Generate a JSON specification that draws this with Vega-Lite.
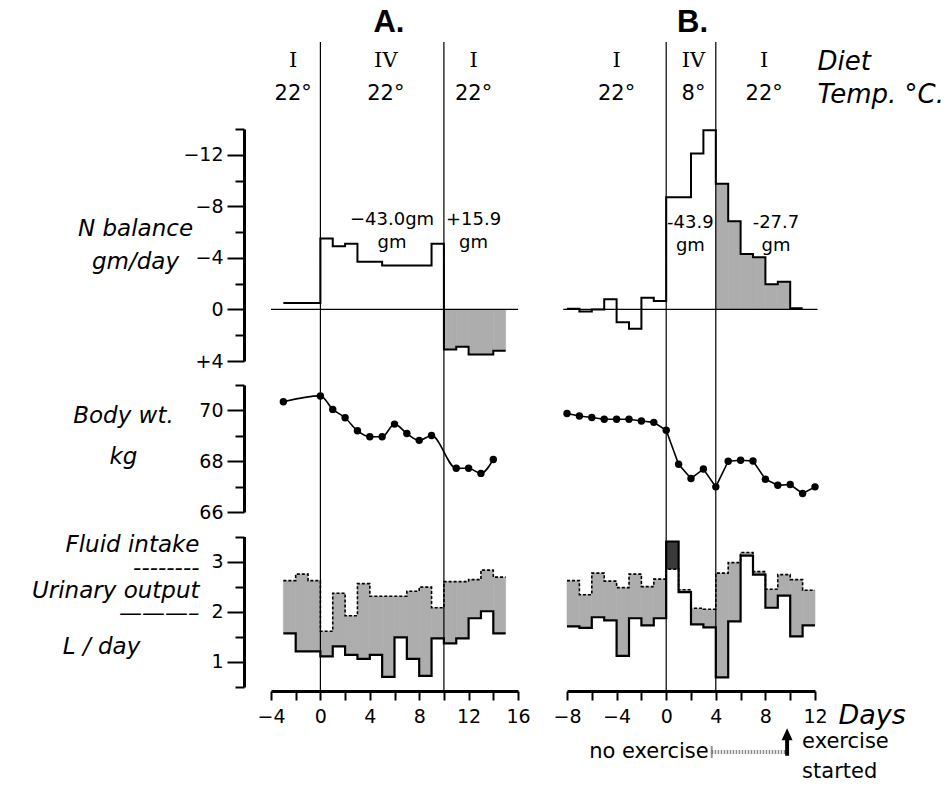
{
  "$schema": "https://vega.github.io/schema/vega-lite/v6.json",
  "width": 948,
  "height": 786,
  "autosize": "none",
  "padding": 0,
  "background": "white",
  "config": {
    "view": {"stroke": null},
    "axis": {
      "domainColor": "black", "domainWidth": 3, "tickColor": "black", "tickWidth": 2,
      "labelColor": "black", "labelFont": "DejaVu Sans", "labelFontSize": 19,
      "labelFlush": false, "labelOverlap": false, "labelBound": false, "grid": false,
      "titleColor": "black", "titleFont": "DejaVu Sans", "titleFontStyle": "italic",
      "titleFontWeight": "normal", "titleFontSize": 23
    },
    "text": {"color": "black"}
  },
  "datasets": {
    "nA": [
      {"day": -3, "day_end": 0, "n": -0.5, "period": "pre"},
      {"day": 0, "day_end": 1, "n": -5.5, "period": "IV"},
      {"day": 1, "day_end": 2, "n": -4.9, "period": "IV"},
      {"day": 2, "day_end": 3, "n": -5.1, "period": "IV"},
      {"day": 3, "day_end": 5, "n": -3.7, "period": "IV"},
      {"day": 5, "day_end": 9, "n": -3.4, "period": "IV"},
      {"day": 9, "day_end": 10, "n": -5.1, "period": "IV"},
      {"day": 10, "day_end": 11, "n": 3.1, "period": "post"},
      {"day": 11, "day_end": 12, "n": 2.9, "period": "post"},
      {"day": 12, "day_end": 14, "n": 3.5, "period": "post"},
      {"day": 14, "day_end": 15, "n": 3.2, "period": "post"}
    ],
    "nB": [
      {"day": -8, "day_end": -7, "n": -0.05, "period": "pre"},
      {"day": -7, "day_end": -6, "n": 0.15, "period": "pre"},
      {"day": -6, "day_end": -5, "n": 0, "period": "pre"},
      {"day": -5, "day_end": -4, "n": -0.8, "period": "pre"},
      {"day": -4, "day_end": -3, "n": 1.0, "period": "pre"},
      {"day": -3, "day_end": -2, "n": 1.5, "period": "pre"},
      {"day": -2, "day_end": -1, "n": -0.9, "period": "pre"},
      {"day": -1, "day_end": 0, "n": -0.65, "period": "pre"},
      {"day": 0, "day_end": 2, "n": -8.7, "period": "IV"},
      {"day": 2, "day_end": 3, "n": -12.1, "period": "IV"},
      {"day": 3, "day_end": 4, "n": -13.9, "period": "IV"},
      {"day": 4, "day_end": 5, "n": -9.75, "period": "post"},
      {"day": 5, "day_end": 6, "n": -6.85, "period": "post"},
      {"day": 6, "day_end": 7, "n": -4.3, "period": "post"},
      {"day": 7, "day_end": 8, "n": -4.05, "period": "post"},
      {"day": 8, "day_end": 9, "n": -1.95, "period": "post"},
      {"day": 9, "day_end": 10, "n": -2.15, "period": "post"},
      {"day": 10, "day_end": 11, "n": -0.1, "period": "post"}
    ],
    "labA": [
      {"day": 5.8, "n": -6.94, "text": "−43.0gm\ngm"},
      {"day": 12.4, "n": -6.94, "text": "+15.9\ngm"}
    ],
    "labB": [
      {"day": 1.95, "n": -6.71, "text": "-43.9\ngm"},
      {"day": 8.85, "n": -6.71, "text": "-27.7\ngm"}
    ],
    "wA": [
      {"day": -3, "kg": 70.34}, {"day": 0, "kg": 70.57}, {"day": 1, "kg": 70.04},
      {"day": 2, "kg": 69.71}, {"day": 3, "kg": 69.2}, {"day": 4, "kg": 68.96},
      {"day": 5, "kg": 68.96}, {"day": 6, "kg": 69.46}, {"day": 7, "kg": 69.09},
      {"day": 8, "kg": 68.82}, {"day": 9, "kg": 69.01}, {"day": 11, "kg": 67.72},
      {"day": 12, "kg": 67.72}, {"day": 13, "kg": 67.52}, {"day": 14, "kg": 68.07}
    ],
    "wB": [
      {"day": -8, "kg": 69.88}, {"day": -7, "kg": 69.78}, {"day": -6, "kg": 69.72},
      {"day": -5, "kg": 69.65}, {"day": -4, "kg": 69.65}, {"day": -3, "kg": 69.65},
      {"day": -2, "kg": 69.58}, {"day": -1, "kg": 69.53}, {"day": 0, "kg": 69.22},
      {"day": 1, "kg": 67.88}, {"day": 2, "kg": 67.32}, {"day": 3, "kg": 67.69},
      {"day": 4, "kg": 66.99}, {"day": 5, "kg": 68.0}, {"day": 6, "kg": 68.04},
      {"day": 7, "kg": 68.01}, {"day": 8, "kg": 67.29}, {"day": 9, "kg": 67.05},
      {"day": 10, "kg": 67.08}, {"day": 11, "kg": 66.73}, {"day": 12, "kg": 66.99}
    ],
    "fA": [
      {"day": -3, "day_end": -2, "intake": 2.62, "output": 1.57},
      {"day": -2, "day_end": -1, "intake": 2.75, "output": 1.21},
      {"day": -1, "day_end": 0, "intake": 2.62, "output": 1.21},
      {"day": 0, "day_end": 1, "intake": 1.61, "output": 1.11},
      {"day": 1, "day_end": 2, "intake": 2.37, "output": 1.31},
      {"day": 2, "day_end": 3, "intake": 1.92, "output": 1.14},
      {"day": 3, "day_end": 4, "intake": 2.56, "output": 1.06},
      {"day": 4, "day_end": 5, "intake": 2.31, "output": 1.14},
      {"day": 5, "day_end": 6, "intake": 2.31, "output": 0.7},
      {"day": 6, "day_end": 7, "intake": 2.31, "output": 1.49},
      {"day": 7, "day_end": 8, "intake": 2.41, "output": 1.06},
      {"day": 8, "day_end": 9, "intake": 2.49, "output": 0.72},
      {"day": 9, "day_end": 10, "intake": 2.08, "output": 1.47},
      {"day": 10, "day_end": 11, "intake": 2.6, "output": 1.37},
      {"day": 11, "day_end": 12, "intake": 2.6, "output": 1.47},
      {"day": 12, "day_end": 13, "intake": 2.64, "output": 1.87},
      {"day": 13, "day_end": 14, "intake": 2.83, "output": 2.01},
      {"day": 14, "day_end": 15, "intake": 2.69, "output": 1.57}
    ],
    "fB": [
      {"day": -8, "day_end": -7, "intake": 2.62, "output": 1.71},
      {"day": -7, "day_end": -6, "intake": 2.34, "output": 1.68},
      {"day": -6, "day_end": -5, "intake": 2.77, "output": 1.89},
      {"day": -5, "day_end": -4, "intake": 2.61, "output": 1.83},
      {"day": -4, "day_end": -3, "intake": 2.48, "output": 1.12},
      {"day": -3, "day_end": -2, "intake": 2.75, "output": 1.87},
      {"day": -2, "day_end": -1, "intake": 2.5, "output": 1.73},
      {"day": -1, "day_end": 0, "intake": 2.65, "output": 1.87},
      {"day": 0, "day_end": 1, "intake": 2.85, "output": 3.4},
      {"day": 1, "day_end": 2, "intake": 2.44, "output": 2.39},
      {"day": 2, "day_end": 3, "intake": 2.07, "output": 1.75},
      {"day": 3, "day_end": 4, "intake": 2.05, "output": 1.69},
      {"day": 4, "day_end": 5, "intake": 2.77, "output": 0.69},
      {"day": 5, "day_end": 6, "intake": 2.98, "output": 1.81},
      {"day": 6, "day_end": 7, "intake": 3.18, "output": 3.12},
      {"day": 7, "day_end": 8, "intake": 2.8, "output": 2.74},
      {"day": 8, "day_end": 9, "intake": 2.45, "output": 2.08},
      {"day": 9, "day_end": 10, "intake": 2.74, "output": 2.32},
      {"day": 10, "day_end": 11, "intake": 2.64, "output": 1.51},
      {"day": 11, "day_end": 12, "intake": 2.43, "output": 1.73}
    ],
    "hA": [
      {"day": -2.2, "diet": "I", "temp": "22°"},
      {"day": 5.3, "diet": "IV", "temp": "22°"},
      {"day": 12.4, "diet": "I", "temp": "22°"}
    ],
    "hB": [
      {"day": -4, "diet": "I", "temp": "22°"},
      {"day": 2.2, "diet": "IV", "temp": "8°"},
      {"day": 7.9, "diet": "I", "temp": "22°"}
    ],
    "titles": [
      {"panel": "A.", "day": 5.55},
      {"panel": "B.", "day": 2.12}
    ],
    "bA": [{"day": 0}, {"day": 10}],
    "bB": [{"day": 0}, {"day": 4}],
    "exercise": [{"from": 3.67, "to": 9.75, "before": "no exercise", "after": "exercise\nstarted"}]
  },
  "layer": [
    {
      "layer": [
        {
          "data": {"name": "nA"},
          "layer": [
            {
              "transform": [{"filter": "datum.period === 'post'"}],
              "mark": {"type": "rect", "color": "#adadad", "stroke": "#adadad", "strokeWidth": 0.6},
              "encoding": {
                "x": {"field": "day", "type": "quantitative", "scale": {"domain": [-4, 16], "range": [271, 518], "nice": false, "zero": false}},
                "x2": {"field": "day_end"},
                "y": {"field": "n", "type": "quantitative", "scale": {"domain": [-14, 4], "range": [129, 361], "nice": false, "zero": false},
                  "axis": {"orient": "left", "offset": -244, "values": [-14, -12, -10, -8, -6, -4, -2, 0, 2, 4],
                    "labelExpr": "datum.value % 4 !== 0 ? '' : (datum.value > 0 ? '+' + datum.label : datum.label)",
                    "tickSize": {"condition": {"test": "datum.value % 4 === 0", "value": 17}, "value": 9},
                    "labelPadding": 4,
                    "title": ["N balance", "gm/day"], "titleX": -109, "titleY": 228, "titleAlign": "center", "titleBaseline": "middle", "titleAngle": 0, "titleLineHeight": 33}},
                "y2": {"datum": 0}
              }
            },
            {
              "data": {"values": [{}]},
              "mark": {"type": "rule", "color": "black", "strokeWidth": 1.2},
              "encoding": {
                "x": {"datum": -4, "type": "quantitative", "scale": {"domain": [-4, 16], "range": [271, 518], "nice": false, "zero": false}},
                "x2": {"datum": 16},
                "y": {"datum": 0, "type": "quantitative", "scale": {"domain": [-14, 4], "range": [129, 361], "nice": false, "zero": false}}
              }
            },
            {
              "transform": [{"fold": ["day", "day_end"], "as": ["edge", "t"]}],
              "mark": {"type": "line", "color": "black", "strokeWidth": 2},
              "encoding": {
                "x": {"field": "t", "type": "quantitative", "scale": {"domain": [-4, 16], "range": [271, 518], "nice": false, "zero": false}},
                "y": {"field": "n", "type": "quantitative", "scale": {"domain": [-14, 4], "range": [129, 361], "nice": false, "zero": false}},
                "order": [{"field": "t", "type": "quantitative"}, {"field": "edge", "type": "nominal", "sort": "descending"}]
              }
            },
            {
              "data": {"name": "labA"},
              "mark": {"type": "text", "font": "DejaVu Sans", "fontSize": 18, "lineBreak": "\n", "lineHeight": 23, "align": "center", "baseline": "middle"},
              "encoding": {
                "x": {"field": "day", "type": "quantitative", "scale": {"domain": [-4, 16], "range": [271, 518], "nice": false, "zero": false}},
                "y": {"field": "n", "type": "quantitative", "scale": {"domain": [-14, 4], "range": [129, 361], "nice": false, "zero": false}},
                "text": {"field": "text"}
              }
            }
          ]
        },
        {
          "data": {"name": "wA"},
          "layer": [
            {
              "mark": {"type": "line", "color": "black", "strokeWidth": 1.6, "interpolate": "monotone"},
              "encoding": {
                "x": {"field": "day", "type": "quantitative", "scale": {"domain": [-4, 16], "range": [271, 518], "nice": false, "zero": false}},
                "y": {"field": "kg", "type": "quantitative", "scale": {"domain": [66, 71], "range": [512, 385], "nice": false, "zero": false},
                  "axis": {"orient": "left", "offset": -244, "values": [66, 67, 68, 69, 70, 71], "format": "d",
                    "labelExpr": "datum.value % 2 === 0 ? datum.label : ''",
                    "tickSize": {"condition": {"test": "datum.value % 2 === 0", "value": 17}, "value": 9},
                    "labelPadding": 4,
                    "title": ["Body wt.", "kg"], "titleX": -121, "titleY": 415, "titleAlign": "center", "titleBaseline": "middle", "titleAngle": 0, "titleLineHeight": 41}}
              }
            },
            {
              "mark": {"type": "point", "filled": true, "color": "black", "opacity": 1, "size": 55},
              "encoding": {
                "x": {"field": "day", "type": "quantitative", "scale": {"domain": [-4, 16], "range": [271, 518], "nice": false, "zero": false}},
                "y": {"field": "kg", "type": "quantitative", "scale": {"domain": [66, 71], "range": [512, 385], "nice": false, "zero": false}}
              }
            }
          ]
        },
        {
          "data": {"name": "fA"},
          "layer": [
            {
              "mark": {"type": "rect", "strokeWidth": 0.6},
              "encoding": {
                "x": {"field": "day", "type": "quantitative", "scale": {"domain": [-4, 16], "range": [271, 518], "nice": false, "zero": false}},
                "x2": {"field": "day_end"},
                "y": {"field": "intake", "type": "quantitative", "scale": {"domain": [0.5, 3.5], "range": [687, 536.5], "nice": false, "zero": false},
                  "axis": {"orient": "left", "offset": -244, "values": [0.5, 1, 1.5, 2, 2.5, 3, 3.5],
                    "labelExpr": "datum.value % 1 === 0 ? format(datum.value, 'd') : ''",
                    "tickSize": {"condition": {"test": "datum.value % 1 === 0", "value": 17}, "value": 9},
                    "labelPadding": 4,
                    "title": ["Fluid intake", "--------", "Urinary output", "———–"], "titleX": -45, "titleY": 544, "titleAlign": "right", "titleBaseline": "middle", "titleAngle": 0, "titleLineHeight": 23}},
                "y2": {"field": "output"},
                "fill": {"condition": {"test": "datum.intake >= datum.output", "value": "#adadad"}, "value": "#3a3a3a"},
                "stroke": {"condition": {"test": "datum.intake >= datum.output", "value": "#adadad"}, "value": "#3a3a3a"}
              }
            },
            {
              "transform": [{"fold": ["day", "day_end"], "as": ["edge", "t"]}],
              "mark": {"type": "line", "color": "black", "strokeWidth": 1.6, "strokeDash": [3, 2]},
              "encoding": {
                "x": {"field": "t", "type": "quantitative", "scale": {"domain": [-4, 16], "range": [271, 518], "nice": false, "zero": false}},
                "y": {"field": "intake", "type": "quantitative", "scale": {"domain": [0.5, 3.5], "range": [687, 536.5], "nice": false, "zero": false}},
                "order": [{"field": "t", "type": "quantitative"}, {"field": "edge", "type": "nominal", "sort": "descending"}]
              }
            },
            {
              "transform": [{"fold": ["day", "day_end"], "as": ["edge", "t"]}],
              "mark": {"type": "line", "color": "black", "strokeWidth": 2.2},
              "encoding": {
                "x": {"field": "t", "type": "quantitative", "scale": {"domain": [-4, 16], "range": [271, 518], "nice": false, "zero": false}},
                "y": {"field": "output", "type": "quantitative", "scale": {"domain": [0.5, 3.5], "range": [687, 536.5], "nice": false, "zero": false}},
                "order": [{"field": "t", "type": "quantitative"}, {"field": "edge", "type": "nominal", "sort": "descending"}]
              }
            }
          ]
        },
        {
          "data": {"name": "hA"},
          "layer": [
            {
              "mark": {"type": "text", "font": "DejaVu Serif", "fontSize": 21, "baseline": "middle", "align": "center"},
              "encoding": {
                "x": {"field": "day", "type": "quantitative", "scale": {"domain": [-4, 16], "range": [271, 518], "nice": false, "zero": false}},
                "y": {"datum": "Diet", "type": "nominal", "scale": {"type": "point", "domain": ["Diet", "Temp. °C."], "range": [61, 94], "padding": 0}, "axis": null},
                "text": {"field": "diet"}
              }
            },
            {
              "mark": {"type": "text", "font": "DejaVu Sans", "fontSize": 21, "baseline": "middle", "align": "center"},
              "encoding": {
                "x": {"field": "day", "type": "quantitative", "scale": {"domain": [-4, 16], "range": [271, 518], "nice": false, "zero": false}},
                "y": {"datum": "Temp. °C.", "type": "nominal", "scale": {"type": "point", "domain": ["Diet", "Temp. °C."], "range": [61, 94], "padding": 0}, "axis": null},
                "text": {"field": "temp"}
              }
            },
            {
              "data": {"name": "titles"},
              "transform": [{"filter": "datum.panel === 'A.'"}],
              "mark": {"type": "text", "font": "Liberation Sans", "fontWeight": "bold", "fontSize": 31, "baseline": "middle", "align": "center", "dy": -38},
              "encoding": {
                "x": {"field": "day", "type": "quantitative", "scale": {"domain": [-4, 16], "range": [271, 518], "nice": false, "zero": false}},
                "y": {"datum": "Diet", "type": "nominal", "scale": {"type": "point", "domain": ["Diet", "Temp. °C."], "range": [61, 94], "padding": 0}, "axis": null},
                "text": {"field": "panel"}
              }
            }
          ]
        },
        {
          "data": {"name": "bA"},
          "mark": {"type": "rule", "color": "black", "strokeWidth": 1.2},
          "encoding": {
            "x": {"field": "day", "type": "quantitative", "scale": {"domain": [-4, 16], "range": [271, 518], "nice": false, "zero": false},
              "axis": {"orient": "bottom", "offset": -95, "values": [-4, -2, 0, 2, 4, 6, 8, 10, 12, 14, 16],
                "labelExpr": "datum.value % 4 === 0 ? datum.label : ''", "tickSize": 9, "labelPadding": 7, "title": null}},
            "y": {"datum": 0, "type": "quantitative", "scale": {"domain": [0, 1], "range": [691, 42], "nice": false, "zero": false}, "axis": null},
            "y2": {"datum": 1}
          }
        }
      ],
      "resolve": {"scale": {"y": "independent"}}
    },
    {
      "layer": [
        {
          "data": {"name": "nB"},
          "layer": [
            {
              "transform": [{"filter": "datum.period === 'post'"}],
              "mark": {"type": "rect", "color": "#adadad", "stroke": "#adadad", "strokeWidth": 0.6},
              "encoding": {
                "x": {"field": "day", "type": "quantitative", "scale": {"domain": [-8, 12], "range": [567, 815], "nice": false, "zero": false}},
                "x2": {"field": "day_end"},
                "y": {"field": "n", "type": "quantitative", "scale": {"domain": [-14, 4], "range": [129, 361], "nice": false, "zero": false}, "axis": null},
                "y2": {"datum": 0}
              }
            },
            {
              "data": {"values": [{}]},
              "mark": {"type": "rule", "color": "black", "strokeWidth": 1.2},
              "encoding": {
                "x": {"datum": -8.3, "type": "quantitative", "scale": {"domain": [-8, 12], "range": [567, 815], "nice": false, "zero": false}},
                "x2": {"datum": 12.2},
                "y": {"datum": 0, "type": "quantitative", "scale": {"domain": [-14, 4], "range": [129, 361], "nice": false, "zero": false}, "axis": null}
              }
            },
            {
              "transform": [{"fold": ["day", "day_end"], "as": ["edge", "t"]}],
              "mark": {"type": "line", "color": "black", "strokeWidth": 2},
              "encoding": {
                "x": {"field": "t", "type": "quantitative", "scale": {"domain": [-8, 12], "range": [567, 815], "nice": false, "zero": false}},
                "y": {"field": "n", "type": "quantitative", "scale": {"domain": [-14, 4], "range": [129, 361], "nice": false, "zero": false}, "axis": null},
                "order": [{"field": "t", "type": "quantitative"}, {"field": "edge", "type": "nominal", "sort": "descending"}]
              }
            },
            {
              "data": {"name": "labB"},
              "mark": {"type": "text", "font": "DejaVu Sans", "fontSize": 18, "lineBreak": "\n", "lineHeight": 23, "align": "center", "baseline": "middle"},
              "encoding": {
                "x": {"field": "day", "type": "quantitative", "scale": {"domain": [-8, 12], "range": [567, 815], "nice": false, "zero": false}},
                "y": {"field": "n", "type": "quantitative", "scale": {"domain": [-14, 4], "range": [129, 361], "nice": false, "zero": false}, "axis": null},
                "text": {"field": "text"}
              }
            }
          ]
        },
        {
          "data": {"name": "wB"},
          "layer": [
            {
              "mark": {"type": "line", "color": "black", "strokeWidth": 1.6},
              "encoding": {
                "x": {"field": "day", "type": "quantitative", "scale": {"domain": [-8, 12], "range": [567, 815], "nice": false, "zero": false}},
                "y": {"field": "kg", "type": "quantitative", "scale": {"domain": [66, 71], "range": [512, 385], "nice": false, "zero": false}, "axis": null}
              }
            },
            {
              "mark": {"type": "point", "filled": true, "color": "black", "opacity": 1, "size": 55},
              "encoding": {
                "x": {"field": "day", "type": "quantitative", "scale": {"domain": [-8, 12], "range": [567, 815], "nice": false, "zero": false}},
                "y": {"field": "kg", "type": "quantitative", "scale": {"domain": [66, 71], "range": [512, 385], "nice": false, "zero": false}, "axis": null}
              }
            }
          ]
        },
        {
          "data": {"name": "fB"},
          "layer": [
            {
              "mark": {"type": "rect", "strokeWidth": 0.6},
              "encoding": {
                "x": {"field": "day", "type": "quantitative", "scale": {"domain": [-8, 12], "range": [567, 815], "nice": false, "zero": false}},
                "x2": {"field": "day_end"},
                "y": {"field": "intake", "type": "quantitative", "scale": {"domain": [0.5, 3.5], "range": [687, 536.5], "nice": false, "zero": false},
                  "axis": {"orient": "left", "offset": -244, "domain": false, "ticks": false, "labels": false,
                    "title": "L / day", "titleX": -143, "titleY": 646, "titleAlign": "center", "titleBaseline": "middle", "titleAngle": 0}},
                "y2": {"field": "output"},
                "fill": {"condition": {"test": "datum.intake >= datum.output", "value": "#adadad"}, "value": "#3a3a3a"},
                "stroke": {"condition": {"test": "datum.intake >= datum.output", "value": "#adadad"}, "value": "#3a3a3a"}
              }
            },
            {
              "transform": [{"fold": ["day", "day_end"], "as": ["edge", "t"]}],
              "mark": {"type": "line", "color": "black", "strokeWidth": 1.6, "strokeDash": [3, 2]},
              "encoding": {
                "x": {"field": "t", "type": "quantitative", "scale": {"domain": [-8, 12], "range": [567, 815], "nice": false, "zero": false}},
                "y": {"field": "intake", "type": "quantitative", "scale": {"domain": [0.5, 3.5], "range": [687, 536.5], "nice": false, "zero": false}},
                "order": [{"field": "t", "type": "quantitative"}, {"field": "edge", "type": "nominal", "sort": "descending"}]
              }
            },
            {
              "transform": [{"fold": ["day", "day_end"], "as": ["edge", "t"]}],
              "mark": {"type": "line", "color": "black", "strokeWidth": 2.2},
              "encoding": {
                "x": {"field": "t", "type": "quantitative", "scale": {"domain": [-8, 12], "range": [567, 815], "nice": false, "zero": false}},
                "y": {"field": "output", "type": "quantitative", "scale": {"domain": [0.5, 3.5], "range": [687, 536.5], "nice": false, "zero": false}},
                "order": [{"field": "t", "type": "quantitative"}, {"field": "edge", "type": "nominal", "sort": "descending"}]
              }
            }
          ]
        },
        {
          "data": {"name": "hB"},
          "layer": [
            {
              "mark": {"type": "text", "font": "DejaVu Serif", "fontSize": 21, "baseline": "middle", "align": "center"},
              "encoding": {
                "x": {"field": "day", "type": "quantitative", "scale": {"domain": [-8, 12], "range": [567, 815], "nice": false, "zero": false}},
                "y": {"datum": "Diet", "type": "nominal", "scale": {"type": "point", "domain": ["Diet", "Temp. °C."], "range": [61, 94], "padding": 0},
                  "axis": {"orient": "right", "offset": -131, "domain": false, "ticks": false, "tickSize": 0, "labelPadding": 0,
                    "labelFont": "DejaVu Sans", "labelFontStyle": "italic", "labelFontSize": 26, "labelAlign": "left", "labelBaseline": "middle", "labelLimit": 0, "title": null}},
                "text": {"field": "diet"}
              }
            },
            {
              "mark": {"type": "text", "font": "DejaVu Sans", "fontSize": 21, "baseline": "middle", "align": "center"},
              "encoding": {
                "x": {"field": "day", "type": "quantitative", "scale": {"domain": [-8, 12], "range": [567, 815], "nice": false, "zero": false}},
                "y": {"datum": "Temp. °C.", "type": "nominal", "scale": {"type": "point", "domain": ["Diet", "Temp. °C."], "range": [61, 94], "padding": 0}},
                "text": {"field": "temp"}
              }
            },
            {
              "data": {"name": "titles"},
              "transform": [{"filter": "datum.panel === 'B.'"}],
              "mark": {"type": "text", "font": "Liberation Sans", "fontWeight": "bold", "fontSize": 31, "baseline": "middle", "align": "center", "dy": -38},
              "encoding": {
                "x": {"field": "day", "type": "quantitative", "scale": {"domain": [-8, 12], "range": [567, 815], "nice": false, "zero": false}},
                "y": {"datum": "Diet", "type": "nominal", "scale": {"type": "point", "domain": ["Diet", "Temp. °C."], "range": [61, 94], "padding": 0}},
                "text": {"field": "panel"}
              }
            }
          ]
        },
        {
          "data": {"name": "bB"},
          "mark": {"type": "rule", "color": "black", "strokeWidth": 1.2},
          "encoding": {
            "x": {"field": "day", "type": "quantitative", "scale": {"domain": [-8, 12], "range": [567, 815], "nice": false, "zero": false},
              "axis": {"orient": "bottom", "offset": -95, "values": [-8, -6, -4, -2, 0, 2, 4, 6, 8, 10, 12],
                "labelExpr": "datum.value % 4 === 0 ? datum.label : ''", "tickSize": 9, "labelPadding": 7,
                "title": "Days", "titleX": 838, "titleY": 24, "titleAlign": "left", "titleBaseline": "middle", "titleAngle": 0, "titleFontSize": 27}},
            "y": {"datum": 0, "type": "quantitative", "scale": {"domain": [0, 1], "range": [691, 42], "nice": false, "zero": false}, "axis": null},
            "y2": {"datum": 1}
          }
        },
        {
          "data": {"name": "exercise"},
          "layer": [
            {
              "mark": {"type": "rule", "color": "#8a8a8a", "strokeWidth": 4, "strokeDash": [1.5, 1.5]},
              "encoding": {
                "x": {"field": "from", "type": "quantitative", "scale": {"domain": [-8, 12], "range": [567, 815], "nice": false, "zero": false}},
                "x2": {"field": "to"},
                "y": {"datum": "exercise", "type": "nominal", "scale": {"type": "point", "domain": ["exercise"], "range": [752, 752], "padding": 0}, "axis": null}
              }
            },
            {
              "mark": {"type": "tick", "color": "#666", "thickness": 2, "size": 12, "orient": "vertical", "strokeDash": [2, 1.5]},
              "encoding": {
                "x": {"field": "from", "type": "quantitative", "scale": {"domain": [-8, 12], "range": [567, 815], "nice": false, "zero": false}},
                "y": {"datum": "exercise", "type": "nominal", "scale": {"type": "point", "domain": ["exercise"], "range": [752, 752], "padding": 0}, "axis": null}
              }
            },
            {
              "mark": {"type": "point", "shape": "arrow", "filled": true, "color": "black", "opacity": 1, "size": 750, "yOffset": -10},
              "encoding": {
                "x": {"field": "to", "type": "quantitative", "scale": {"domain": [-8, 12], "range": [567, 815], "nice": false, "zero": false}},
                "y": {"datum": "exercise", "type": "nominal", "scale": {"type": "point", "domain": ["exercise"], "range": [752, 752], "padding": 0}, "axis": null}
              }
            },
            {
              "mark": {"type": "text", "font": "DejaVu Sans", "fontSize": 21, "align": "right", "baseline": "middle", "dx": -3},
              "encoding": {
                "x": {"field": "from", "type": "quantitative", "scale": {"domain": [-8, 12], "range": [567, 815], "nice": false, "zero": false}},
                "y": {"datum": "exercise", "type": "nominal", "scale": {"type": "point", "domain": ["exercise"], "range": [752, 752], "padding": 0}, "axis": null},
                "text": {"field": "before"}
              }
            },
            {
              "mark": {"type": "text", "font": "DejaVu Sans", "fontSize": 21, "align": "left", "baseline": "middle", "dx": 15, "dy": -10, "lineBreak": "\n", "lineHeight": 30},
              "encoding": {
                "x": {"field": "to", "type": "quantitative", "scale": {"domain": [-8, 12], "range": [567, 815], "nice": false, "zero": false}},
                "y": {"datum": "exercise", "type": "nominal", "scale": {"type": "point", "domain": ["exercise"], "range": [752, 752], "padding": 0}, "axis": null},
                "text": {"field": "after"}
              }
            }
          ]
        }
      ],
      "resolve": {"scale": {"y": "independent"}}
    }
  ],
  "resolve": {"scale": {"x": "independent", "y": "independent"}}
}
